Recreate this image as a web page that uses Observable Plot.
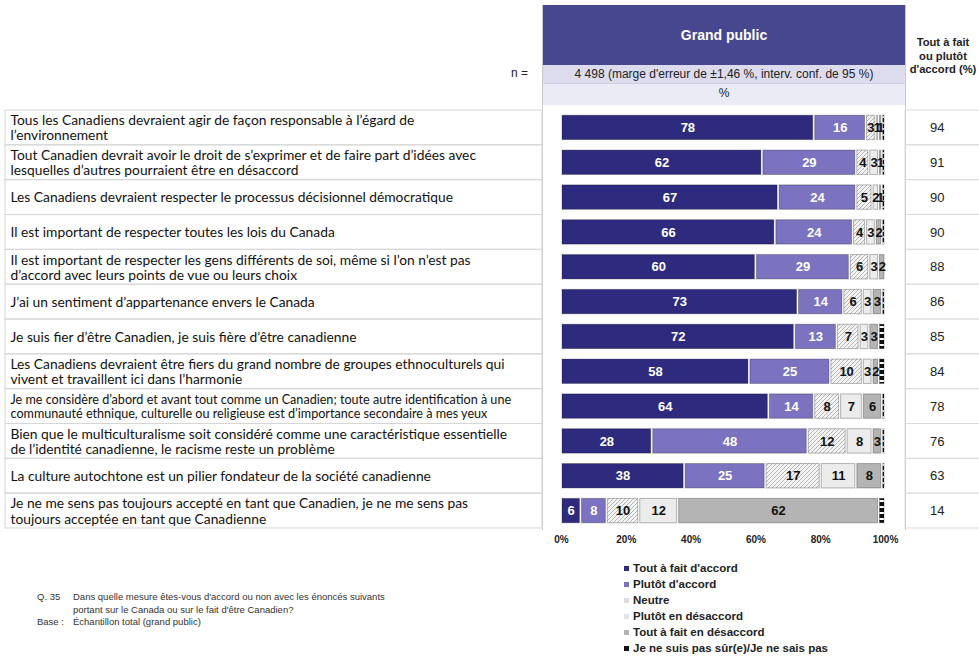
<!DOCTYPE html>
<html>
<head>
<meta charset="utf-8">
<script src="https://cdn.jsdelivr.net/npm/d3@7"></script>
<script src="https://cdn.jsdelivr.net/npm/@observablehq/plot@0.6"></script>
<style>
  body { margin: 0; background: #fff; }
  #wrap { position: relative; width: 979px; height: 659px; overflow: hidden; font-family: "Liberation Sans", Arial, sans-serif; }
  #chart { position: absolute; left: 0; top: 100px; }
  .hdr-blue { position: absolute; left: 543px; top: 5px; width: 362px; height: 60px; background: #46478f; color: #fff; font-weight: bold; font-size: 14px; display: flex; align-items: center; justify-content: center; }
  .hdr-n { position: absolute; left: 543px; top: 65px; width: 362px; height: 18px; background: #dcdcee; color: #222; font-size: 12px; text-align: center; line-height: 18px; border-bottom: 1px solid #cfcfe3; }
  .hdr-pct { position: absolute; left: 543px; top: 84px; width: 362px; height: 21px; background: #ebebf6; color: #222; font-size: 12px; text-align: center; line-height: 19px; }
  .hdr-neq { position: absolute; left: 511px; top: 66px; font-size: 12px; color: #222; }
  .vline { position: absolute; width: 1px; background: #c8c8c8; }
  .hdr-right { position: absolute; left: 907px; top: 36px; width: 72px; text-align: center; font-weight: bold; font-size: 11.2px; line-height: 13.5px; color: #222; white-space: nowrap; }
  #legend { position: absolute; left: 624px; top: 560px; font-size: 11.5px; font-weight: bold; color: #222; }
  #legend div { height: 16px; line-height: 16px; display: flex; align-items: center; }
  #legend span.sw { display: inline-block; width: 5px; height: 5px; margin-right: 4px; }
  #foot { position: absolute; left: 37px; top: 591px; font-size: 9.5px; color: #333; line-height: 12.5px; }
  #foot .lab { display: inline-block; width: 36px; }
</style>
</head>
<body>
<div id="wrap">
  <div class="vline" style="left:542px; top:5px; height:525px;"></div>
  <div class="vline" style="left:905px; top:5px; height:525px;"></div>
  <div class="hdr-blue">Grand public</div>
  <div class="hdr-neq">n =</div>
  <div class="hdr-n">4 498 (marge d'erreur de ±1,46 %, interv. conf. de 95 %)</div>
  <div class="hdr-pct">%</div>
  <div class="hdr-right">Tout à fait<br>ou plutôt<br>d'accord (%)</div>
  <div id="chart"></div>
  <div id="legend"></div>
  <div id="foot">
    <div><span class="lab">Q. 35</span>Dans quelle mesure êtes-vous d'accord ou non avec les énoncés suivants</div>
    <div><span class="lab"></span>portant sur le Canada ou sur le fait d'être Canadien?</div>
    <div><span class="lab">Base :</span>Échantillon total (grand public)</div>
  </div>
</div>
<script>
const statements = [
  "Tous les Canadiens devraient agir de façon responsable à l’égard de\nl’environnement",
  "Tout Canadien devrait avoir le droit de s’exprimer et de faire part d’idées avec\nlesquelles d’autres pourraient être en désaccord",
  "Les Canadiens devraient respecter le processus décisionnel démocratique",
  "Il est important de respecter toutes les lois du Canada",
  "Il est important de respecter les gens différents de soi, même si l’on n’est pas\nd’accord avec leurs points de vue ou leurs choix",
  "J’ai un sentiment d’appartenance envers le Canada",
  "Je suis fier d’être Canadien, je suis fière d’être canadienne",
  "Les Canadiens devraient être fiers du grand nombre de groupes ethnoculturels qui\nvivent et travaillent ici dans l’harmonie",
  "Je me considère d’abord et avant tout comme un Canadien; toute autre identification à une\ncommunauté ethnique, culturelle ou religieuse est d’importance secondaire à mes yeux",
  "Bien que le multiculturalisme soit considéré comme une caractéristique essentielle\nde l’identité canadienne, le racisme reste un problème",
  "La culture autochtone est un pilier fondateur de la société canadienne",
  "Je ne me sens pas toujours accepté en tant que Canadien, je ne me sens pas\ntoujours acceptée en tant que Canadienne"
];
const categories = [
  "Tout à fait d'accord",
  "Plutôt d'accord",
  "Neutre",
  "Plutôt en désaccord",
  "Tout à fait en désaccord",
  "Je ne suis pas sûr(e)/Je ne sais pas"
];
const toutAFaitDaccord   = [78, 62, 67, 66, 60, 73, 72, 58, 64, 28, 38, 6];
const plutotDaccord      = [16, 29, 24, 24, 29, 14, 13, 25, 14, 48, 25, 8];
const neutre             = [3, 4, 5, 4, 6, 6, 7, 10, 8, 12, 17, 10];
const plutotEnDesaccord  = [1, 3, 2, 3, 3, 3, 3, 3, 7, 8, 11, 12];
const toutAFaitDesaccord = [1, 1, 1, 2, 2, 3, 3, 2, 6, 3, 8, 62];
const nspValues          = [1, 1, 1, 1, 0, 1, 2, 2, 1, 1, 1, 2];
const totals             = [94, 91, 90, 90, 88, 86, 85, 84, 78, 76, 63, 14];
const xTicks = [0, 20, 40, 60, 80, 100];

const series = [toutAFaitDaccord, plutotDaccord, neutre, plutotEnDesaccord, toutAFaitDesaccord, nspValues];
const data = [];
statements.forEach((s, i) => {
  series.forEach((arr, c) => data.push({statement: s, cat: categories[c], ci: c, value: arr[i]}));
});
const rows = statements.map((s, i) => ({statement: s, total: totals[i], idx: i}));

const colorRange = ["#2e2b7e", "#7b73c0", "url(#hatch)", "#ececec", "#b4b4b4", "url(#nsp)"];

const stackOpts = {x: "value", y: "statement", z: "cat", order: categories};
const labelFont = "'Liberation Sans', Arial, sans-serif";

const svg = Plot.plot({
  width: 979,
  height: 450,
  marginTop: 10,
  marginBottom: 22,
  marginLeft: 0,
  marginRight: 0,
  x: {domain: [0, 100], range: [561, 885], axis: null, label: null},
  y: {domain: statements, paddingInner: 0.3, paddingOuter: 0.15, round: false, axis: null},
  color: {domain: categories, range: colorRange},
  marks: [
    Plot.cell(rows, {y: "statement", fill: "none", stroke: "#d6d6d6", insetTop: -5.2, insetBottom: -5.2, insetLeft: 5, insetRight: 437}),
    Plot.cell(rows, {y: "statement", fill: "none", stroke: "#dcdcdc", insetTop: -5.2, insetBottom: -5.2, insetLeft: 905, insetRight: -2}),
    Plot.text(rows, {y: "statement", text: "statement", frameAnchor: "left", dx: 10, textAnchor: "start",
      fontFamily: "Lato, 'Liberation Sans', sans-serif", fontSize: d => d.idx === 8 ? 12.6 : 13.8, lineHeight: 1.1, fill: "#111"}),
    Plot.text(rows, {y: "statement", text: d => String(d.total), frameAnchor: "right", dx: -35,
      fontFamily: labelFont, fontSize: 13, fill: "#222"}),
    Plot.barX(data, Plot.filter(d => d.value > 0, Plot.stackX({...stackOpts, fill: "cat", insetLeft: 1, insetRight: 1,
      stroke: "rgba(0,0,0,0.28)", strokeWidth: 1}))),
    Plot.text(data, Plot.filter(d => d.ci < 2 && d.value > 0, Plot.stackX({...stackOpts, text: d => String(d.value),
      fill: "white", fontWeight: "bold", fontSize: 13, fontFamily: labelFont}))),
    Plot.text(data, Plot.filter(d => d.ci >= 2 && d.ci < 5 && d.value > 0, Plot.stackX({...stackOpts, text: d => String(d.value),
      fill: "#111", fontWeight: "bold", fontSize: 13, fontFamily: labelFont}))),
    Plot.axisX({ticks: xTicks, tickFormat: d => d + "%", tickSize: 0, tickPadding: 7, fontWeight: "bold", fontSize: 10,
      fontFamily: labelFont, fill: "#222", label: null})
  ]
});

svg.insertAdjacentHTML("afterbegin", `<defs>
  <pattern id="hatch" patternUnits="userSpaceOnUse" width="4" height="4">
    <rect width="4" height="4" fill="#f4f4f4"/>
    <path d="M-1,1 l2,-2 M0,4 l4,-4 M3,5 l2,-2" stroke="#a5a5a5" stroke-width="0.8"/>
  </pattern>
  <pattern id="nsp" patternUnits="userSpaceOnUse" width="4" height="6">
    <rect width="4" height="6" fill="#fff"/>
    <rect width="4" height="4" fill="#111"/>
  </pattern>
</defs>`);
document.getElementById("chart").appendChild(svg);

const legendColors = ["#2e2b7e", "#7b73c0", "#dddddd", "#e4e4e4", "#b4b4b4", "#111"];
const lg = document.getElementById("legend");
categories.forEach((c, i) => {
  const row = document.createElement("div");
  row.innerHTML = `<span class="sw" style="background:${legendColors[i]}"></span>${c}`;
  lg.appendChild(row);
});
</script>
</body>
</html>
